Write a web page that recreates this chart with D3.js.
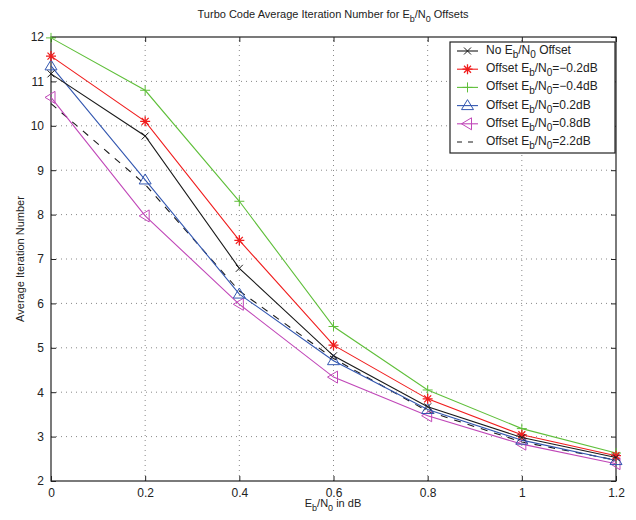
<!DOCTYPE html>
<html>
<head>
<meta charset="utf-8">
<script src="https://cdn.jsdelivr.net/npm/d3@7"></script>
<style>
  body { margin: 0; background: #fff; }
  text { font-family: "Liberation Sans", Arial, sans-serif; fill: #222; }
</style>
</head>
<body>
<svg width="636" height="520"></svg>
<script>
(function() {
    const ebn0 = [0, 0.2, 0.4, 0.6, 0.8, 1.0, 1.2]

    const noOffset   = [11.17, 9.77, 6.79, 4.82, 3.67, 2.98, 2.53]
    const offsetM02  = [11.57, 10.10, 7.42, 5.06, 3.85, 3.04, 2.57]
    const offsetM04  = [11.98, 10.80, 8.30, 5.48, 4.05, 3.18, 2.63]
    const offsetP02  = [11.35, 8.78, 6.21, 4.71, 3.61, 2.92, 2.46]
    const offsetP08  = [10.64, 7.97, 5.98, 4.34, 3.47, 2.83, 2.39]
    const offsetP22  = [10.50, 8.68, 6.28, 4.76, 3.57, 2.88, 2.47]

    const xTicks = [0, 0.2, 0.4, 0.6, 0.8, 1, 1.2]
    const yTicks = [2, 3, 4, 5, 6, 7, 8, 9, 10, 11, 12]

    const series = [
        { label: ['No E', 'b', '/N', '0', ' Offset'], values: noOffset, color: '#1a1a1a', marker: 'x', dash: null },
        { label: ['Offset E', 'b', '/N', '0', '=\u22120.2dB'], values: offsetM02, color: '#f01d1d', marker: 'star', dash: null },
        { label: ['Offset E', 'b', '/N', '0', '=\u22120.4dB'], values: offsetM04, color: '#5fbf3a', marker: 'plus', dash: null },
        { label: ['Offset E', 'b', '/N', '0', '=0.2dB'], values: offsetP02, color: '#3357b0', marker: 'triUp', dash: null },
        { label: ['Offset E', 'b', '/N', '0', '=0.8dB'], values: offsetP08, color: '#c047b8', marker: 'triLeft', dash: null },
        { label: ['Offset E', 'b', '/N', '0', '=2.2dB'], values: offsetP22, color: '#1a1a1a', marker: null, dash: '7,7' }
    ]

    const svg = d3.select('svg')
    const margin = { left: 51, right: 20, top: 37, bottom: 39 }
    const width  = +svg.attr('width')
    const height = +svg.attr('height')

    const x = d3.scaleLinear().domain([0, 1.2]).range([margin.left, width - margin.right])
    const y = d3.scaleLinear().domain([2, 12]).range([height - margin.bottom, margin.top])

    // grid
    const grid = svg.append('g').attr('stroke', '#888').attr('stroke-width', 1).attr('stroke-dasharray', '1,4')
    grid.selectAll('line.gx').data(xTicks.slice(1, -1)).enter().append('line')
        .attr('x1', d => x(d)).attr('x2', d => x(d))
        .attr('y1', y(2)).attr('y2', y(12))
    grid.selectAll('line.gy').data(yTicks.slice(1, -1)).enter().append('line')
        .attr('y1', d => y(d)).attr('y2', d => y(d))
        .attr('x1', x(0)).attr('x2', x(1.2))

    // axes, ticks point inward like matlab
    const axisStyle = g => {
        g.select('.domain').remove()
        g.selectAll('line').attr('stroke', '#222')
        g.selectAll('text').style('font-size', '12px').style('fill', '#222')
    }
    svg.append('g').attr('transform', `translate(0,${y(2)})`)
        .call(d3.axisBottom(x).tickValues(xTicks).tickSizeInner(-5).tickSizeOuter(0).tickPadding(7).tickFormat(d3.format('~g')))
        .call(axisStyle)
    svg.append('g').attr('transform', `translate(0,${y(12)})`)
        .call(d3.axisTop(x).tickValues(xTicks).tickSizeInner(-5).tickSizeOuter(0).tickFormat(''))
        .call(axisStyle)
    svg.append('g').attr('transform', `translate(${x(0)},0)`)
        .call(d3.axisLeft(y).tickValues(yTicks).tickSizeInner(-5).tickSizeOuter(0).tickPadding(7))
        .call(axisStyle)
    svg.append('g').attr('transform', `translate(${x(1.2)},0)`)
        .call(d3.axisRight(y).tickValues(yTicks).tickSizeInner(-5).tickSizeOuter(0).tickFormat(''))
        .call(axisStyle)

    svg.append('rect')
        .attr('x', x(0)).attr('y', y(12))
        .attr('width', x(1.2) - x(0)).attr('height', y(2) - y(12))
        .attr('fill', 'none').attr('stroke', '#222').attr('stroke-width', 1.2)

    // markers
    const drawMarker = (g, type, color, cx, cy) => {
        const s = 5
        if (type === 'x') {
            g.append('path').attr('d', `M${cx - 3.5},${cy - 3.5}L${cx + 3.5},${cy + 3.5}M${cx - 3.5},${cy + 3.5}L${cx + 3.5},${cy - 3.5}`)
                .attr('stroke', color).attr('fill', 'none')
        } else if (type === 'plus') {
            g.append('path').attr('d', `M${cx - s},${cy}L${cx + s},${cy}M${cx},${cy - s}L${cx},${cy + s}`)
                .attr('stroke', color).attr('fill', 'none')
        } else if (type === 'star') {
            g.append('path').attr('d', `M${cx - s},${cy}L${cx + s},${cy}M${cx},${cy - s}L${cx},${cy + s}` +
                `M${cx - 3.5},${cy - 3.5}L${cx + 3.5},${cy + 3.5}M${cx - 3.5},${cy + 3.5}L${cx + 3.5},${cy - 3.5}`)
                .attr('stroke', color).attr('stroke-width', 1.3).attr('fill', 'none')
        } else if (type === 'triUp') {
            g.append('path').attr('d', `M${cx},${cy - 6}L${cx + 6},${cy + 4}L${cx - 6},${cy + 4}Z`)
                .attr('stroke', color).attr('fill', 'none')
        } else if (type === 'triLeft') {
            g.append('path').attr('d', `M${cx - 6},${cy}L${cx + 4},${cy - 6}L${cx + 4},${cy + 6}Z`)
                .attr('stroke', color).attr('fill', 'none')
        }
    }

    const line = d3.line().x((d, i) => x(ebn0[i])).y(d => y(d))

    // draw in reverse so black solid sits on top
    series.slice().reverse().forEach(s => {
        const g = svg.append('g')
        g.append('path').datum(s.values)
            .attr('d', line)
            .attr('fill', 'none')
            .attr('stroke', s.color)
            .attr('stroke-width', 1.1)
            .attr('stroke-dasharray', s.dash)
        if (s.marker) {
            s.values.forEach((v, i) => drawMarker(g, s.marker, s.color, x(ebn0[i]), y(v)))
        }
    })

    // subscript text helper
    const subText = (sel, parts, size) => {
        parts.forEach((p, i) => {
            const t = sel.append('tspan').text(p)
            if (i % 2 === 1) {
                t.attr('dy', 4).style('font-size', (size - 2) + 'px')
            } else if (i > 0) {
                t.attr('dy', -4)
            }
        })
    }

    // legend
    const lg = svg.append('g')
    lg.append('rect').attr('x', 450).attr('y', 42).attr('width', 165).attr('height', 111)
        .attr('fill', '#fff').attr('stroke', '#222').attr('stroke-width', 1.2)
    series.forEach((s, i) => {
        const yy = 51 + i * 18.2
        lg.append('line').attr('x1', 457).attr('x2', 478).attr('y1', yy).attr('y2', yy)
            .attr('stroke', s.color).attr('stroke-width', 1.1).attr('stroke-dasharray', s.dash ? '5,6' : null)
        if (s.marker) drawMarker(lg, s.marker, s.color, 467.5, yy)
        const t = lg.append('text').attr('x', 486).attr('y', yy + 3).style('font-size', '12px')
        subText(t, s.label, 12)
    })

    // title and labels
    const title = svg.append('text').attr('x', 333).attr('y', 18).attr('text-anchor', 'middle').style('font-size', '11px')
    subText(title, ['Turbo Code Average Iteration Number for E', 'b', '/N', '0', ' Offsets'], 11)

    const xl = svg.append('text').attr('x', 333).attr('y', 507).attr('text-anchor', 'middle').style('font-size', '11px')
    subText(xl, ['E', 'b', '/N', '0', ' in dB'], 11)

    svg.append('text')
        .attr('transform', `translate(24,${(y(2) + y(12)) / 2}) rotate(-90)`)
        .attr('text-anchor', 'middle').style('font-size', '11px')
        .text('Average Iteration Number')
})()
</script>
</body>
</html>
